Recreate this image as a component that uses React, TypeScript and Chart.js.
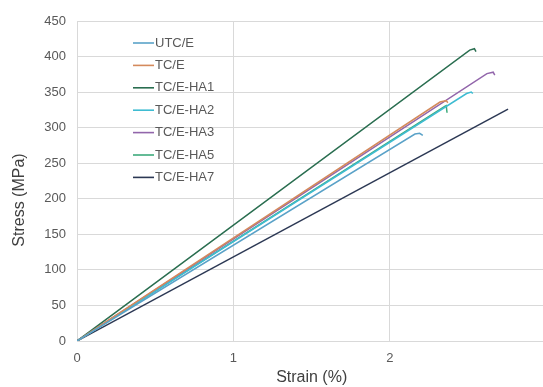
import React, { useEffect, useRef } from "react";
import { Chart, registerables } from "chart.js";

Chart.register(...registerables);

const seriesLabels = ["UTC/E", "TC/E", "TC/E-HA1", "TC/E-HA2", "TC/E-HA3", "TC/E-HA5", "TC/E-HA7"];
const seriesColors = ["#5aa2c8", "#d48a5c", "#2a6e50", "#3fbcd2", "#9266ab", "#3eab7c", "#2c3854"];

// strain (%) and stress (MPa) per series
const utcStrain = [0, 2.16, 2.19, 2.21];
const utcStress = [0, 291, 292, 289];
const tcStrain = [0, 2.32, 2.36, 2.37];
const tcStress = [0, 336, 338, 335];
const ha1Strain = [0, 2.51, 2.54, 2.55];
const ha1Stress = [0, 409, 411, 407];
const ha2Strain = [0, 2.49, 2.52, 2.53];
const ha2Stress = [0, 348, 350, 348];
const ha3Strain = [0, 2.62, 2.66, 2.67];
const ha3Stress = [0, 376, 378, 374];
const ha5Strain = [0, 2.35, 2.36, 2.365];
const ha5Stress = [0, 330, 331, 321];
const ha7Strain = [0, 2.755];
const ha7Stress = [0, 326];

const xTicks = [0, 1, 2, 3];
const yTicks = [0, 50, 100, 150, 200, 250, 300, 350, 400, 450];
const xTitle = "Strain (%)";
const yTitle = "Stress (MPa)";

const allStrain = [utcStrain, tcStrain, ha1Strain, ha2Strain, ha3Strain, ha5Strain, ha7Strain];
const allStress = [utcStress, tcStress, ha1Stress, ha2Stress, ha3Stress, ha5Stress, ha7Stress];

const FONT = "'Liberation Sans', Arial, sans-serif";

const insideLegend = {
  id: "insideLegend",
  afterDraw(chart: any) {
    const ctx = chart.ctx;
    ctx.save();
    ctx.font = `13px ${FONT}`;
    ctx.textBaseline = "middle";
    ctx.textAlign = "left";
    chart.data.datasets.forEach((ds: any, i: number) => {
      const y = 43 + i * 22.4;
      ctx.strokeStyle = ds.borderColor;
      ctx.lineWidth = 1.6;
      ctx.beginPath();
      ctx.moveTo(133, y);
      ctx.lineTo(154, y);
      ctx.stroke();
      ctx.fillStyle = "#595959";
      ctx.fillText(ds.label, 155, y);
    });
    // y axis title
    ctx.translate(20, 200);
    ctx.rotate(-Math.PI / 2);
    ctx.textAlign = "center";
    ctx.font = `16px ${FONT}`;
    ctx.fillStyle = "#404040";
    ctx.fillText(yTitle, 0, 0);
    ctx.restore();
  },
};

export default function App() {
  const ref = useRef<HTMLCanvasElement>(null);
  useEffect(() => {
    const datasets = seriesLabels.map((label, i) => ({
      label,
      data: allStrain[i].map((x, j) => ({ x, y: allStress[i][j] })),
      borderColor: seriesColors[i],
      backgroundColor: seriesColors[i],
      borderWidth: 1.5,
      pointRadius: 0,
      showLine: true,
      tension: 0,
      fill: false,
    }));
    const chart = new Chart(ref.current!, {
      type: "scatter",
      data: { datasets },
      options: {
        responsive: false,
        animation: false,
        layout: { padding: { left: 0, top: 21, right: 13.5, bottom: 0 } },
        plugins: { legend: { display: false }, tooltip: { enabled: false } },
        scales: {
          x: {
            type: "linear",
            min: 0,
            max: 3,
            afterBuildTicks: (s: any) => {
              s.ticks = xTicks.map((v) => ({ value: v }));
            },
            afterFit: (s: any) => {
              s.height = 46;
            },
            grid: { color: "#d9d9d9", drawTicks: false, lineWidth: 1 },
            border: { color: "#d9d9d9" },
            ticks: { color: "#595959", font: { size: 13, family: FONT }, padding: 10 },
            title: {
              display: true,
              text: xTitle,
              color: "#404040",
              font: { size: 16, family: FONT },
              padding: { top: 0, bottom: 0 },
            },
          },
          y: {
            type: "linear",
            min: 0,
            max: 450,
            afterBuildTicks: (s: any) => {
              s.ticks = yTicks.map((v) => ({ value: v }));
            },
            afterFit: (s: any) => {
              s.width = 77;
            },
            grid: { color: "#d9d9d9", drawTicks: false, lineWidth: 1 },
            border: { color: "#d9d9d9" },
            ticks: { color: "#595959", font: { size: 13, family: FONT }, padding: 11 },
            title: { display: false },
          },
        },
      },
      plugins: [insideLegend],
    });
    return () => chart.destroy();
  }, []);
  return (
    <div style={{ position: "fixed", left: 0, top: 0, width: 543, height: 387, overflow: "hidden", background: "#fff" }}>
      <canvas ref={ref} width={560} height={387} style={{ display: "block" }} />
    </div>
  );
}
